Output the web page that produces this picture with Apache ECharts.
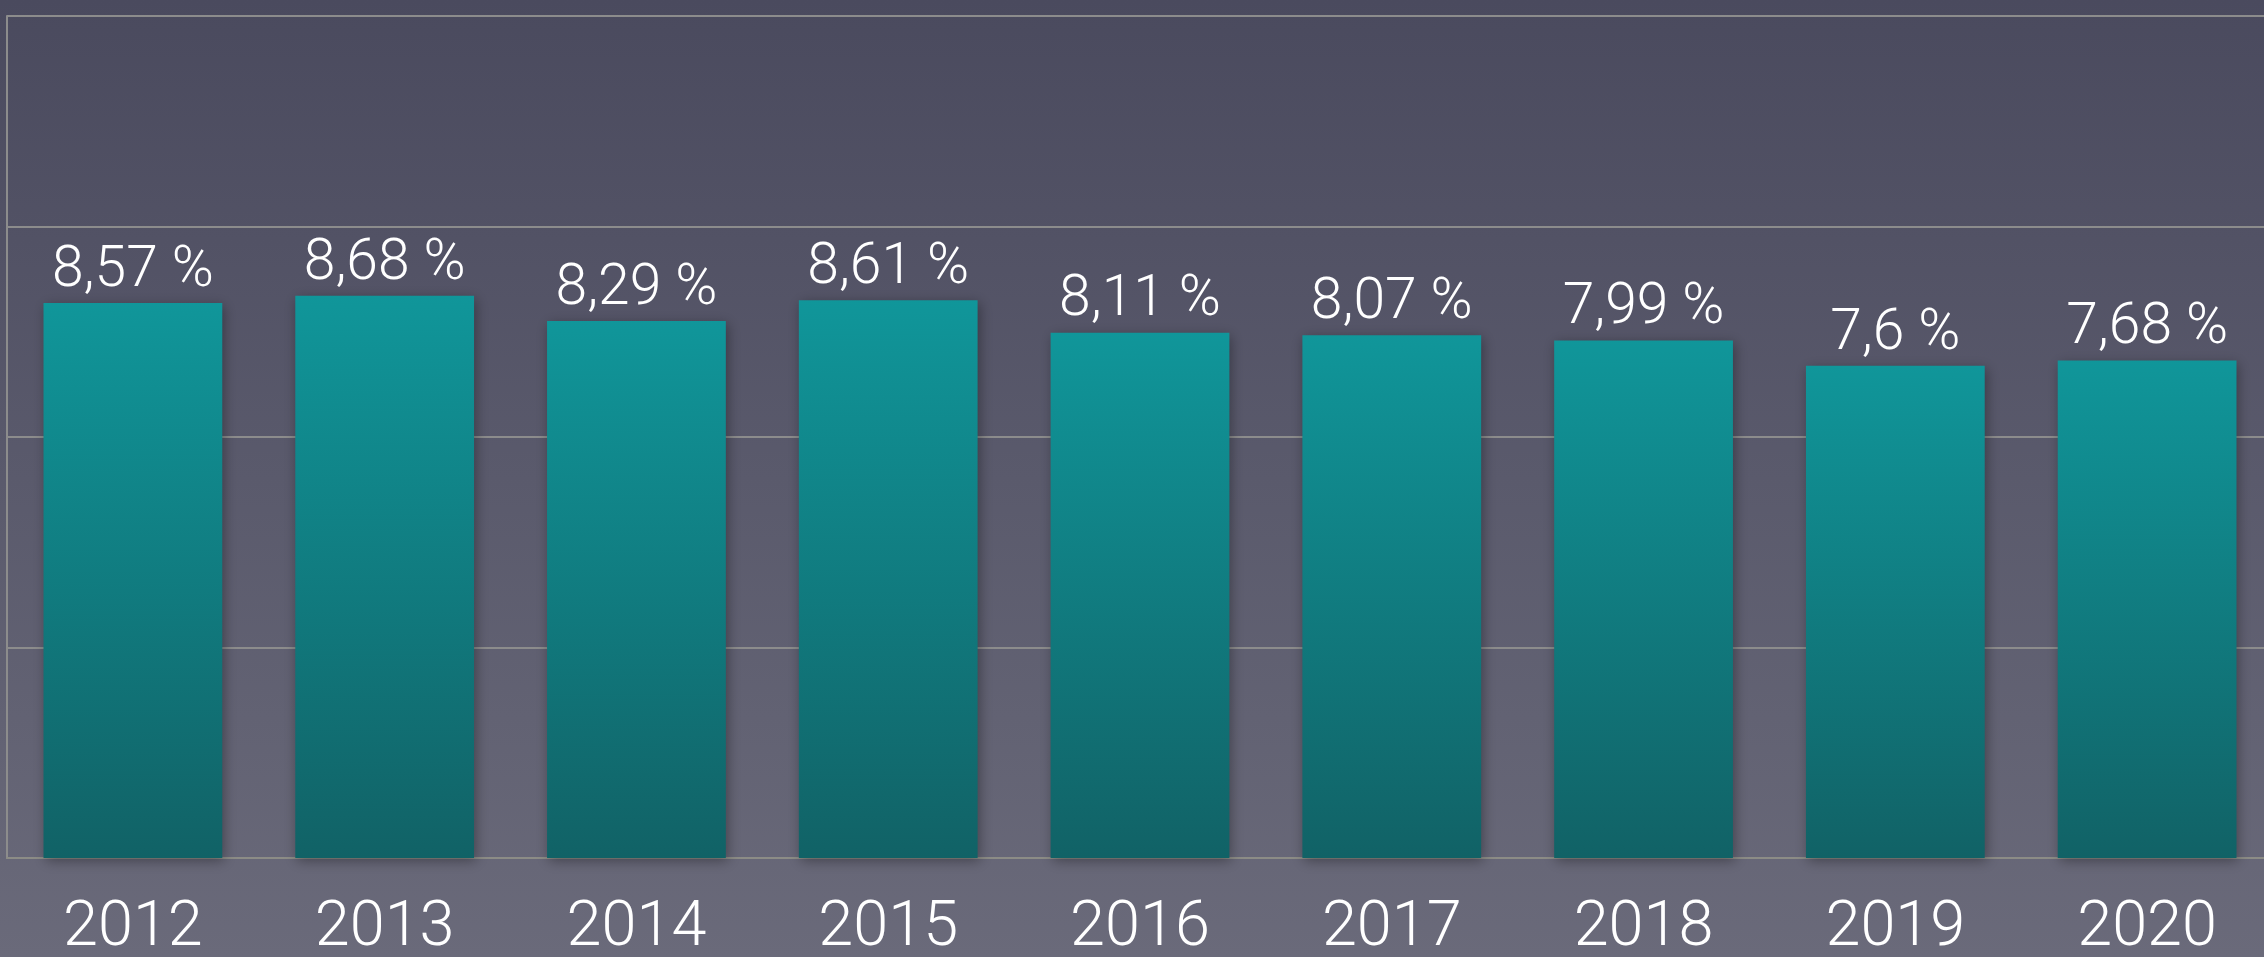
<!DOCTYPE html>
<html>
<head>
<meta charset="utf-8">
<script src="https://cdn.jsdelivr.net/npm/echarts@6/dist/echarts.min.js"></script>
<style>
  html, body {
    margin: 0;
    padding: 0;
    width: 100%;
    height: 100%;
    overflow: hidden;
  }
  #chart {
    width: 2264px;
    height: 957px;
  }
</style>
</head>
<body>
<div id="chart"></div>
<script>
const years = ["2012", "2013", "2014", "2015", "2016", "2017", "2018", "2019", "2020"];
const rates = [8.57, 8.68, 8.29, 8.61, 8.11, 8.07, 7.99, 7.6, 7.68];

const myChart = echarts.init(document.getElementById("chart"));

let option = {
  backgroundColor: new echarts.graphic.LinearGradient(0, 0, 0, 1, [
    { offset: 0, color: "#4a4a5e" },
    { offset: 1, color: "#6a6a7a" },
  ]),
  animation: false,
  grid: {
    left: 7,
    right: -9,
    top: 16,
    bottom: 99,
    outerBoundsMode: "none",
    containLabel: false,
  },
  xAxis: {
    type: "category",
    data: years,
    axisTick: { show: false },
    // 底部轴线
    axisLine: {
      show: true,
      lineStyle: { color: "#8c8c86", width: 2 },
    },
    axisLabel: {
      color: "#ffffff",
      fontFamily: "Roboto",
      fontWeight: 300,
      fontSize: 63,
      margin: 40,
    },
  },
  yAxis: {
    type: "value",
    min: 0,
    max: 13,
    interval: 3.25,
    axisLabel: { show: false },
    axisTick: { show: false },
    axisLine: {
      show: true,
      lineStyle: { color: "#8c8c8c", width: 2 },
    },
    splitLine: {
      lineStyle: { color: "#8c8c8c", width: 2 },
    },
  },
  series: [
    {
      type: "bar",
      data: rates,
      barWidth: "71%",
      itemStyle: {
        color: new echarts.graphic.LinearGradient(0, 0, 0, 1, [
          { offset: 0, color: "#10969a" },
          { offset: 1, color: "#116266" },
        ]),
        shadowColor: "rgba(0, 0, 0, 0.35)",
        shadowBlur: 12,
        shadowOffsetX: 2,
        shadowOffsetY: 3,
      },
      label: {
        show: true,
        position: "top",
        distance: 3,
        color: "#ffffff",
        fontFamily: "Roboto",
        fontWeight: 300,
        fontSize: 57,
        formatter: (p) => String(p.value).replace(".", ",") + " %",
      },
    },
  ],
};
myChart.setOption(option);
</script>
</body>
</html>
